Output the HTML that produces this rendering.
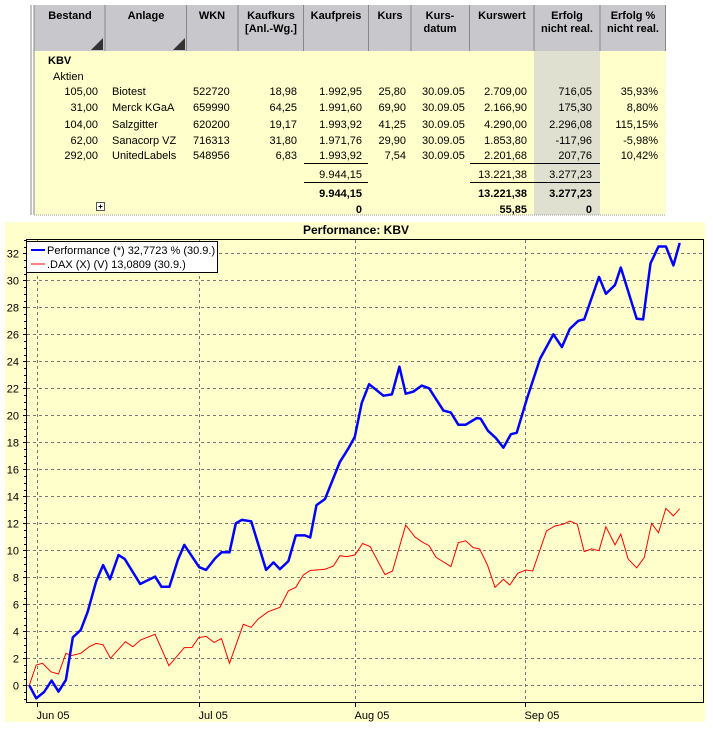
<!DOCTYPE html>
<html><head><meta charset="utf-8"><style>
body{margin:0;background:#fff;width:713px;height:737px;overflow:hidden}
svg{display:block;font-family:"Liberation Sans",sans-serif}
</style></head><body>
<svg id="root" width="713" height="737" viewBox="0 0 713 737">
<g id="table">
  <rect x="34" y="5" width="632" height="210" fill="#ffffcc"/>
  <rect x="534" y="50" width="66" height="165" fill="#e0e0d0"/>
  <rect x="34" y="5" width="632" height="46" fill="#c8c8cc"/>
  <line x1="31" y1="5" x2="31" y2="215" stroke="#888"/>
  <line x1="34" y1="5" x2="34" y2="215" stroke="#888"/>
  <line x1="34" y1="215" x2="666" y2="215" stroke="#999" stroke-dasharray="1,1"/>
  <g stroke="#888">
    <line x1="105" y1="5" x2="105" y2="51"/><line x1="186.5" y1="5" x2="186.5" y2="51"/>
    <line x1="238" y1="5" x2="238" y2="51"/><line x1="303.5" y1="5" x2="303.5" y2="51"/>
    <line x1="368.5" y1="5" x2="368.5" y2="51"/><line x1="411" y1="5" x2="411" y2="51"/>
    <line x1="469.5" y1="5" x2="469.5" y2="51"/><line x1="534" y1="5" x2="534" y2="51"/>
    <line x1="600" y1="5" x2="600" y2="51"/><line x1="665.5" y1="5" x2="665.5" y2="51"/>
  </g>
  <polygon points="103,38 103,50 91,50" fill="#333"/>
  <polygon points="185,38 185,50 173,50" fill="#333"/>
  <g font-size="11" font-weight="bold" text-anchor="middle" fill="#000">
    <text x="70" y="19">Bestand</text>
    <text x="146" y="19">Anlage</text>
    <text x="212" y="19">WKN</text>
    <text x="271" y="19">Kaufkurs<tspan x="271" dy="13">[Anl.-Wg.]</tspan></text>
    <text x="336" y="19">Kaufpreis</text>
    <text x="390" y="19">Kurs</text>
    <text x="440" y="19">Kurs-<tspan x="440" dy="13">datum</tspan></text>
    <text x="502" y="19">Kurswert</text>
    <text x="567" y="19">Erfolg<tspan x="567" dy="13">nicht real.</tspan></text>
    <text x="633" y="19">Erfolg %<tspan x="633" dy="13">nicht real.</tspan></text>
  </g>
  <text x="48" y="64" font-size="11" font-weight="bold">KBV</text>
  <text x="53" y="80" font-size="11">Aktien</text>
  <g font-size="11" fill="#000">
    <g>
      <text x="98" y="95" text-anchor="end">105,00</text><text x="112" y="95">Biotest</text><text x="193" y="95">522720</text>
      <text x="297" y="95" text-anchor="end">18,98</text><text x="362" y="95" text-anchor="end">1.992,95</text><text x="406" y="95" text-anchor="end">25,80</text>
      <text x="422" y="95">30.09.05</text><text x="527" y="95" text-anchor="end">2.709,00</text><text x="592" y="95" text-anchor="end">716,05</text><text x="658" y="95" text-anchor="end">35,93%</text>
    </g>
    <g>
      <text x="98" y="111" text-anchor="end">31,00</text><text x="112" y="111">Merck KGaA</text><text x="193" y="111">659990</text>
      <text x="297" y="111" text-anchor="end">64,25</text><text x="362" y="111" text-anchor="end">1.991,60</text><text x="406" y="111" text-anchor="end">69,90</text>
      <text x="422" y="111">30.09.05</text><text x="527" y="111" text-anchor="end">2.166,90</text><text x="592" y="111" text-anchor="end">175,30</text><text x="658" y="111" text-anchor="end">8,80%</text>
    </g>
    <g>
      <text x="98" y="128" text-anchor="end">104,00</text><text x="112" y="128">Salzgitter</text><text x="193" y="128">620200</text>
      <text x="297" y="128" text-anchor="end">19,17</text><text x="362" y="128" text-anchor="end">1.993,92</text><text x="406" y="128" text-anchor="end">41,25</text>
      <text x="422" y="128">30.09.05</text><text x="527" y="128" text-anchor="end">4.290,00</text><text x="592" y="128" text-anchor="end">2.296,08</text><text x="658" y="128" text-anchor="end">115,15%</text>
    </g>
    <g>
      <text x="98" y="144" text-anchor="end">62,00</text><text x="112" y="144">Sanacorp VZ</text><text x="193" y="144">716313</text>
      <text x="297" y="144" text-anchor="end">31,80</text><text x="362" y="144" text-anchor="end">1.971,76</text><text x="406" y="144" text-anchor="end">29,90</text>
      <text x="422" y="144">30.09.05</text><text x="527" y="144" text-anchor="end">1.853,80</text><text x="592" y="144" text-anchor="end">-117,96</text><text x="658" y="144" text-anchor="end">-5,98%</text>
    </g>
    <g>
      <text x="98" y="159" text-anchor="end">292,00</text><text x="112" y="159">UnitedLabels</text><text x="193" y="159">548956</text>
      <text x="297" y="159" text-anchor="end">6,83</text><text x="362" y="159" text-anchor="end">1.993,92</text><text x="406" y="159" text-anchor="end">7,54</text>
      <text x="422" y="159">30.09.05</text><text x="527" y="159" text-anchor="end">2.201,68</text><text x="592" y="159" text-anchor="end">207,76</text><text x="658" y="159" text-anchor="end">10,42%</text>
    </g>
  </g>
  <g stroke="#000">
    <line x1="304" y1="163.5" x2="368" y2="163.5"/><line x1="470" y1="163.5" x2="600" y2="163.5"/>
    <line x1="304" y1="182.5" x2="368" y2="182.5"/><line x1="470" y1="182.5" x2="600" y2="182.5"/>
  </g>
  <g font-size="11" text-anchor="end">
    <text x="362" y="178">9.944,15</text><text x="527" y="178">13.221,38</text><text x="592" y="178">3.277,23</text>
  </g>
  <g font-size="11" font-weight="bold" text-anchor="end">
    <text x="362" y="197">9.944,15</text><text x="527" y="197">13.221,38</text><text x="592" y="197">3.277,23</text>
    <text x="362" y="213">0</text><text x="527" y="213">55,85</text><text x="592" y="213">0</text>
  </g>
  <g>
    <rect x="96.5" y="202.5" width="8" height="8" fill="#fff" stroke="#555"/>
    <line x1="98.5" y1="206.5" x2="102.5" y2="206.5" stroke="#000"/><line x1="100.5" y1="204.5" x2="100.5" y2="208.5" stroke="#000"/>
  </g>
</g>

<g id="chart">
  <rect x="5" y="222" width="700" height="500" fill="#ffffcc"/>
  <text x="356" y="234" font-size="12" font-weight="bold" text-anchor="middle">Performance: KBV</text>
  <g id="grid"></g>
  <g id="axes"></g>
  <g id="series"></g>
  <rect x="26.5" y="239.5" width="677" height="463" fill="none" stroke="#000"/>
  <g>
    <rect x="26.5" y="241.5" width="191" height="31" fill="#fff" stroke="#000"/>
    <g>
      <line x1="31" y1="250" x2="45" y2="250" stroke="#0000ff" stroke-width="2"/>
      <text x="47" y="254" font-size="11">Performance (*) 32,7723 % (30.9.)</text>
    </g>
    <g>
      <line x1="31" y1="264" x2="45" y2="264" stroke="#ff0000" stroke-width="1"/>
      <text x="47" y="268" font-size="11">.DAX (X) (V) 13,0809 (30.9.)</text>
    </g>
  </g>
</g>
</svg>
<script>
const yTicks = [0,2,4,6,8,10,12,14,16,18,20,22,24,26,28,30,32];
const monthLabels = ["Jun 05","Jul 05","Aug 05","Sep 05"];
const monthDays = [0,30.6,59.9,92];
const perfDays = [-1.4,-0.1,1.4,2.8,4.1,5.5,6.8,8.3,9.6,11.2,12.5,13.8,15.4,16.6,19.5,22.3,23.5,25.0,26.6,27.8,30.6,31.9,33.6,34.8,36.3,37.5,38.6,40.4,43.2,44.6,45.8,47.4,48.8,50.5,51.5,52.7,54.3,57.1,58.7,59.9,61.2,62.6,65.3,66.9,68.3,69.5,70.9,72.5,73.9,76.6,78.0,79.4,80.8,82.9,83.6,85.0,86.5,87.9,89.3,90.4,92.3,94.8,97.3,98.9,100.4,102.0,103.1,105.9,107.2,108.9,110.0,113.0,114.2,115.6,117.1,118.5,119.9,121.1];
const perfValues = [0,-0.96,-0.5,0.35,-0.47,0.4,3.55,4.1,5.45,7.7,8.9,7.85,9.65,9.35,7.5,8.05,7.3,7.3,9.3,10.4,8.75,8.55,9.4,9.85,9.85,12.0,12.25,12.15,8.55,9.1,8.6,9.2,11.1,11.1,10.95,13.35,13.8,16.55,17.55,18.4,20.9,22.3,21.45,21.55,23.6,21.6,21.75,22.2,22.0,20.35,20.2,19.3,19.3,19.8,19.75,18.85,18.3,17.6,18.6,18.7,21.2,24.2,26.0,25.05,26.4,27.0,27.1,30.25,29.0,29.65,30.95,27.15,27.1,31.25,32.5,32.5,31.1,32.77];
const daxDays = [-1.4,-0.1,1.1,2.7,4.1,5.5,6.5,8.3,9.9,11.2,12.5,13.9,16.7,18.1,19.6,22.3,24.9,27.8,29.2,30.5,31.9,33.4,34.8,36.3,38.9,40.4,41.7,43.6,45.8,47.4,48.8,50.2,51.5,54.3,55.9,57.1,58.4,59.9,61.4,62.8,65.6,67.0,69.5,71.2,72.5,73.9,75.2,78.0,79.4,80.8,82.2,83.4,84.9,86.3,87.9,89.1,90.6,92.1,93.4,96.0,97.6,99.2,100.4,101.8,103.1,104.5,105.9,107.2,108.9,110.0,111.4,113.0,114.4,115.8,117.1,118.5,119.9,121.1];
const daxValues = [0,1.5,1.63,1.0,0.84,2.37,2.2,2.37,2.86,3.1,3.0,2.0,3.23,2.86,3.36,3.78,1.45,2.79,2.8,3.53,3.62,3.18,3.46,1.63,4.52,4.3,4.9,5.45,5.78,7.0,7.26,8.17,8.5,8.6,8.84,9.6,9.53,9.65,10.5,10.27,8.2,8.47,11.87,11.0,10.64,10.34,9.48,8.79,10.56,10.7,10.2,10.1,8.9,7.26,7.85,7.43,8.3,8.54,8.47,11.43,11.8,11.93,12.17,11.93,9.9,10.1,9.97,11.75,10.4,11.2,9.35,8.7,9.45,12.0,11.3,13.1,12.55,13.08];

const NS = "http://www.w3.org/2000/svg";
function xs(d){ return 36.7 + d*5.31; }
function ys(v){ return 685.3 - v*13.5; }
function mk(tag, attrs, parent){ const e=document.createElementNS(NS,tag); for(const k in attrs) e.setAttribute(k,attrs[k]); parent.appendChild(e); return e; }

const grid=document.getElementById('grid'), axes=document.getElementById('axes'), series=document.getElementById('series');
yTicks.forEach(function(t){
  const y=Math.round(ys(t))+0.5;
  const g=mk('line',{x1:27,y1:y,x2:703,y2:y,stroke:'#777','stroke-dasharray':'3,3'},grid);
  
  
  mk('line',{x1:23,y1:y,x2:27,y2:y,stroke:'#000'},axes);
  const lb=mk('text',{x:19,y:y+4,'font-size':11,'text-anchor':'end'},axes);
  lb.textContent=String(t);
  
  
});
for(let v=-1; v<=33; v+=0.5){
  if(v%2===0) continue;
  const y=Math.round(ys(v))+0.5;
  if(y<240||y>702) continue;
  mk('line',{x1:24,y1:y,x2:27,y2:y,stroke:'#000'},axes);
}
monthDays.forEach(function(d,i){
  const x=Math.round(xs(d))+0.5;
  const g=mk('line',{x1:x,y1:240,x2:x,y2:702,stroke:'#777','stroke-dasharray':'3,3'},grid);
  
  
  mk('line',{x1:x,y1:703,x2:x,y2:707,stroke:'#000'},axes);
  const lb=mk('text',{x:x-1,y:719,'font-size':11},axes);
  lb.textContent=monthLabels[i];
  
  
});
function pts(ds,vs){ return ds.map(function(d,i){return xs(d).toFixed(1)+','+ys(vs[i]).toFixed(1);}).join(' '); }
const dax=mk('polyline',{points:pts(daxDays,daxValues),fill:'none',stroke:'#ff0000','stroke-width':1},series);


const perf=mk('polyline',{points:pts(perfDays,perfValues),fill:'none',stroke:'#0000ff','stroke-width':2.5,'stroke-linejoin':'round'},series);


</script>
</body></html>
